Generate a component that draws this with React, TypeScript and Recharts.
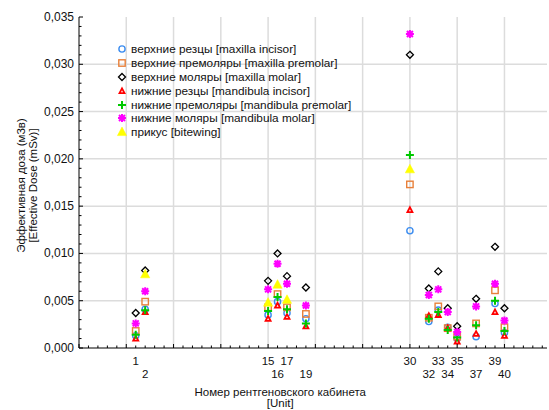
import { ScatterChart, Scatter, XAxis, YAxis, CartesianGrid, Label } from "recharts";

const units = [1, 2, 15, 16, 17, 19, 30, 32, 33, 34, 35, 37, 39, 40];

const maxillaIncisor = [0.0013, 0.0041, 0.0035, 0.0049, 0.0037, 0.0031, 0.0124, 0.0028, 0.004, 0.0022, 0.001, 0.0012, 0.0047, 0.0016];
const maxillaPremolar = [0.0018, 0.0049, 0.0043, 0.0057, 0.0043, 0.0036, 0.0173, 0.0032, 0.0044, 0.0021, 0.0012, 0.0026, 0.0061, 0.0022];
const maxillaMolar = [0.0037, 0.0082, 0.0071, 0.01, 0.0076, 0.0064, 0.031, 0.0063, 0.0081, 0.0042, 0.0023, 0.0052, 0.0107, 0.0042];
const mandibulaIncisor = [0.001, 0.0038, 0.0031, 0.0045, 0.0033, 0.0023, 0.0146, 0.0034, 0.0035, 0.0021, 0.0007, 0.0015, 0.0038, 0.0013];
const mandibulaPremolar = [0.0014, 0.004, 0.0039, 0.0054, 0.0041, 0.0026, 0.0204, 0.0031, 0.0038, 0.0019, 0.0011, 0.0024, 0.005, 0.0018];
const mandibulaMolar = [0.0026, 0.006, 0.0062, 0.0089, 0.0068, 0.0045, 0.0332, 0.0056, 0.0062, 0.0038, 0.0017, 0.0044, 0.0068, 0.0029];
const bitewing = [null, 0.0078, 0.0048, 0.0067, 0.0051, null, 0.0189, null, null, null, null, null, null, null];

const xMajorTicks = [0, 5, 10, 15, 20, 25, 30, 35, 40];
const xMinorTicks = Array.from({ length: 50 }, (_, i) => i - 5);
const yMajorTicks = [0, 0.005, 0.01, 0.015, 0.02, 0.025, 0.03, 0.035];
const yMinorTicks = Array.from({ length: 36 }, (_, i) => i / 1000);

const FONT = "'Liberation Sans', Arial, sans-serif";

const series = [
  { name: "верхние резцы [maxilla incisor]", values: maxillaIncisor, shape: "circle", color: "#3c8df0" },
  { name: "верхние премоляры [maxilla premolar]", values: maxillaPremolar, shape: "square", color: "#e8803a" },
  { name: "верхние моляры [maxilla molar]", values: maxillaMolar, shape: "diamond", color: "#000000" },
  { name: "нижние резцы [mandibula incisor]", values: mandibulaIncisor, shape: "redTriangle", color: "#ff0000" },
  { name: "нижние премоляры [mandibula premolar]", values: mandibulaPremolar, shape: "plus", color: "#00c800" },
  { name: "нижние моляры [mandibula molar]", values: mandibulaMolar, shape: "star", color: "#ff00ff" },
  { name: "прикус [bitewing]", values: bitewing, shape: "triangle", color: "#ffff00" },
];

function Marker({ cx, cy, kind, color }: { cx: number; cy: number; kind: string; color: string }) {
  if (kind === "circle") return <circle cx={cx} cy={cy} r={3.1} fill="none" stroke={color} strokeWidth={1.4} />;
  if (kind === "square") return <rect x={cx - 3.2} y={cy - 3.2} width={6.4} height={6.4} fill="none" stroke={color} strokeWidth={1.4} />;
  if (kind === "diamond")
    return <path d={`M${cx},${cy - 3.5}L${cx + 3.5},${cy}L${cx},${cy + 3.5}L${cx - 3.5},${cy}Z`} fill="none" stroke={color} strokeWidth={1.3} />;
  if (kind === "redTriangle")
    return (
      <g>
        <path d={`M${cx},${cy - 4.6}L${cx + 4},${cy + 3}L${cx - 4},${cy + 3}Z`} fill={color} />
        <path d={`M${cx},${cy - 0.8}L${cx + 1},${cy + 1.2}L${cx - 1},${cy + 1.2}Z`} fill="#ffffff" />
      </g>
    );
  if (kind === "triangle")
    return <path d={`M${cx},${cy - 5}L${cx + 4.6},${cy + 3.6}L${cx - 4.6},${cy + 3.6}Z`} fill={color} stroke={color} strokeWidth={0.5} />;
  if (kind === "plus")
    return <path d={`M${cx - 4},${cy}H${cx + 4}M${cx},${cy - 4}V${cy + 4}`} stroke={color} strokeWidth={2} />;
  return (
    <path
      d={`M${cx - 4},${cy}H${cx + 4}M${cx},${cy - 4}V${cy + 4}M${cx - 3},${cy - 3}L${cx + 3},${cy + 3}M${cx - 3},${cy + 3}L${cx + 3},${cy - 3}`}
      stroke={color}
      strokeWidth={2}
    />
  );
}

function XTick(props: any) {
  const { x, y, payload } = props;
  const v = payload.value;
  const major = v % 5 === 0;
  const idx = units.indexOf(v);
  return (
    <g>
      <line x1={x} x2={x} y1={y} y2={y - (major ? 4 : 2.5)} stroke="#000" strokeWidth={1} />
      {idx >= 0 ? (
        <text x={x} y={y + (idx % 2 === 0 ? 13 : 26)} textAnchor="middle" dominantBaseline="central" fontSize={11.5} fontFamily={FONT} fill="#111">
          {v}
        </text>
      ) : null}
    </g>
  );
}

function TopTick(props: any) {
  const { x, y, payload } = props;
  const major = payload.value % 5 === 0;
  return <line x1={x} x2={x} y1={y} y2={y + (major ? 4 : 2.5)} stroke="#000" strokeWidth={1} />;
}

function YTick(props: any) {
  const { x, y, payload } = props;
  const major = Math.round(payload.value * 1000) % 5 === 0;
  return (
    <g>
      <line x1={x} x2={x + (major ? 4 : 2.5)} y1={y} y2={y} stroke="#000" strokeWidth={1} />
      {major ? (
        <text x={x - 5} y={y} textAnchor="end" dominantBaseline="central" fontSize={12} fontFamily={FONT} fill="#111">
          {payload.value.toFixed(3).replace(".", ",")}
        </text>
      ) : null}
    </g>
  );
}

function RightTick(props: any) {
  const { x, y, payload } = props;
  const major = Math.round(payload.value * 1000) % 5 === 0;
  return <line x1={x} x2={x - (major ? 4 : 2.5)} y1={y} y2={y} stroke="#000" strokeWidth={1} />;
}

function YTitle(props: any) {
  const { viewBox } = props;
  const cy = viewBox.y + viewBox.height / 2 + 3;
  return (
    <g fontFamily={FONT} fontSize={11.5} fill="#111">
      <text x={21} y={cy} transform={`rotate(-90, 21, ${cy})`} textAnchor="middle" dominantBaseline="central">
        Эффективная доза (м3в)
      </text>
      <text x={33} y={cy} transform={`rotate(-90, 33, ${cy})`} textAnchor="middle" dominantBaseline="central">
        [Effective Dose (mSv)]
      </text>
    </g>
  );
}

function XTitle(props: any) {
  const { viewBox } = props;
  const cx = viewBox.x + viewBox.width * 0.43;
  return (
    <g fontFamily={FONT} fontSize={11.5} fill="#111">
      <text x={cx} y={392} textAnchor="middle" dominantBaseline="central">
        Номер рентгеновского кабинета
      </text>
      <text x={cx} y={403} textAnchor="middle" dominantBaseline="central">
        [Unit]
      </text>
    </g>
  );
}

export default function App() {
  return (
    <div style={{ position: "absolute", left: 0, top: 0, width: 549, height: 410, background: "#fff" }}>
      <ScatterChart width={549} height={410} margin={{ top: 17, right: 2, bottom: 0, left: 0 }}>
        <CartesianGrid horizontalValues={yMajorTicks.slice(1, -1)} verticalValues={xMajorTicks} stroke="#dcdcdc" strokeWidth={1.5} />
        <XAxis
          dataKey="x"
          type="number"
          domain={[-5, 44.5]}
          allowDataOverflow
          ticks={xMinorTicks}
          interval={0}
          tickSize={0}
          tickMargin={0}
          tickLine={false}
          tick={<XTick />}
          height={62}
          axisLine={{ stroke: "#000" }}
        >
          <Label content={<XTitle />} />
        </XAxis>
        <XAxis
          xAxisId="top"
          orientation="top"
          type="number"
          domain={[-5, 44.5]}
          allowDataOverflow
          ticks={xMinorTicks}
          interval={0}
          tickSize={0}
          tickMargin={0}
          tickLine={false}
          tick={<TopTick />}
          height={0}
          axisLine={{ stroke: "#000" }}
        />
        <YAxis
          dataKey="y"
          type="number"
          domain={[0, 0.035]}
          allowDataOverflow
          ticks={yMinorTicks}
          interval={0}
          tickSize={0}
          tickMargin={0}
          tickLine={false}
          tick={<YTick />}
          width={79}
          axisLine={{ stroke: "#000" }}
        >
          <Label content={<YTitle />} />
        </YAxis>
        <YAxis
          yAxisId="right"
          orientation="right"
          type="number"
          domain={[0, 0.035]}
          allowDataOverflow
          ticks={yMinorTicks}
          interval={0}
          tickSize={0}
          tickMargin={0}
          tickLine={false}
          tick={<RightTick />}
          width={0}
          axisLine={{ stroke: "#000" }}
        />
        {series.map((s) => (
          <Scatter
            key={s.name}
            name={s.name}
            data={units.map((u, i) => ({ x: u, y: s.values[i] })).filter((d) => d.y != null)}
            isAnimationActive={false}
            shape={(p: any) => <Marker cx={p.cx} cy={p.cy} kind={s.shape} color={s.color} />}
          />
        ))}
      </ScatterChart>
      <div style={{ position: "absolute", left: 115, top: 42, fontFamily: FONT, fontSize: 11.8, color: "#111" }}>
        {series.map((s) => (
          <div key={s.name} style={{ display: "flex", alignItems: "center", height: 13.9, whiteSpace: "nowrap" }}>
            <svg width={14} height={12} style={{ marginRight: 2 }}>
              <Marker cx={7} cy={6} kind={s.shape} color={s.color} />
            </svg>
            <span>{s.name}</span>
          </div>
        ))}
      </div>
    </div>
  );
}
